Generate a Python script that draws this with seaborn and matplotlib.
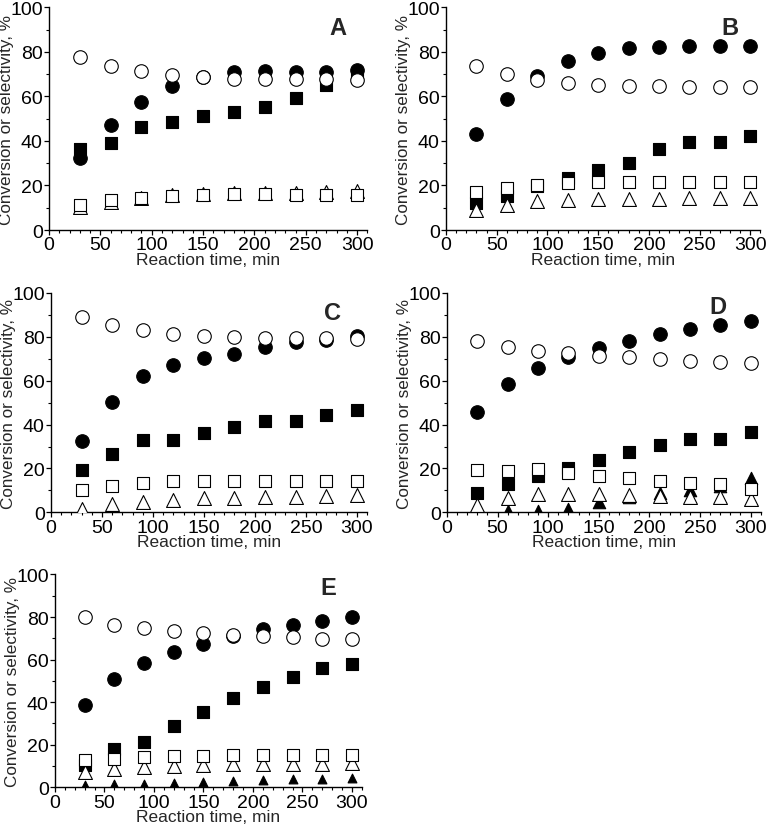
import numpy as np
import pandas as pd
import seaborn as sns
import matplotlib.pyplot as plt
from matplotlib.ticker import MultipleLocator

# reaction times, min
time = [30, 60, 90, 120, 150, 180, 210, 240, 270, 300]

# panel A
a_conv = [32.2, 47.3, 57.6, 64.5, 68.8, 71.0, 71.4, 71.1, 71.0, 71.9]
a_sel = [77.5, 73.8, 71.3, 69.5, 68.7, 67.7, 67.7, 67.7, 68.0, 67.5]
a_sq_f = [36.5, 39.0, 46.3, 48.5, 51.0, 53.1, 55.2, 59.3, 65.1, 68.5]
a_sq_o = [11.2, 13.3, 14.4, 15.4, 15.9, 16.0, 16.0, 15.9, 15.9, 15.9]
a_tri_o = [10.5, 12.5, 14.5, 15.5, 16.0, 16.5, 16.8, 16.8, 17.0, 17.5]

# panel B
b_conv = [43.3, 58.7, 69.3, 75.7, 79.5, 81.6, 82.3, 82.5, 82.5, 82.5]
b_sel = [73.8, 70.0, 67.5, 66.0, 65.1, 64.5, 64.5, 64.4, 64.4, 64.4]
b_sq_f = [12.1, 15.4, 19.6, 23.5, 26.8, 30.2, 36.4, 39.4, 39.4, 42.2]
b_sq_o = [16.9, 18.9, 20.0, 21.1, 21.4, 21.4, 21.4, 21.4, 21.4, 21.4]
b_tri_o = [9.0, 11.2, 13.0, 13.6, 13.9, 14.1, 14.1, 14.2, 14.2, 14.2]

# panel C
c_conv = [32.7, 50.2, 62.3, 67.3, 70.2, 72.2, 75.2, 77.8, 78.6, 80.2]
c_sel = [89.0, 85.6, 83.0, 81.2, 80.2, 79.8, 79.5, 79.5, 79.5, 79.2]
c_sq_f = [19.1, 26.4, 33.1, 33.1, 36.3, 38.9, 41.5, 41.5, 44.4, 46.8]
c_sq_o = [10.3, 11.9, 13.2, 14.1, 14.4, 14.4, 14.4, 14.3, 14.3, 14.1]
c_tri_o = [1.5, 3.6, 4.9, 5.8, 6.4, 6.7, 7.0, 7.0, 7.3, 7.9]

# panel D
d_conv = [45.9, 58.5, 65.7, 70.6, 75.1, 78.1, 81.2, 83.4, 85.4, 87.4]
d_sel = [78.3, 75.4, 73.6, 72.5, 71.1, 70.7, 69.8, 69.1, 68.5, 68.2]
d_sq_f = [8.7, 12.9, 16.6, 20.1, 24.0, 27.5, 30.5, 33.6, 33.6, 36.5]
d_sq_o = [19.1, 19.0, 19.8, 17.9, 16.7, 15.5, 14.4, 13.4, 12.9, 10.6]
d_tri_o = [3.3, 6.7, 8.2, 8.5, 8.5, 8.0, 7.6, 7.1, 6.8, 6.1]
d_tri_f = [0.5, 0.5, 0.6, 1.5, 4.6, 7.1, 8.7, 10.3, 11.9, 15.8]

# panel E
e_conv = [38.6, 51.1, 58.4, 63.4, 67.5, 71.2, 74.2, 76.2, 78.1, 80.0]
e_sel = [79.8, 76.4, 74.8, 73.6, 72.5, 71.7, 71.1, 70.8, 69.8, 69.7]
e_sq_f = [10.6, 18.0, 21.3, 28.6, 35.2, 42.0, 47.2, 51.9, 56.1, 58.0]
e_sq_o = [13.0, 13.3, 14.1, 14.5, 14.7, 15.2, 15.2, 15.2, 15.2, 15.2]
e_tri_o = [7.0, 8.6, 9.7, 10.2, 10.3, 10.8, 10.8, 10.8, 10.9, 11.3]
e_tri_f = [1.1, 1.3, 1.6, 2.2, 2.7, 3.0, 3.3, 3.8, 4.1, 4.4]

panels = [
    ("A", a_conv, a_sel, a_sq_f, a_sq_o, a_tri_o, None),
    ("B", b_conv, b_sel, b_sq_f, b_sq_o, b_tri_o, None),
    ("C", c_conv, c_sel, c_sq_f, c_sq_o, c_tri_o, None),
    ("D", d_conv, d_sel, d_sq_f, d_sq_o, d_tri_o, d_tri_f),
    ("E", e_conv, e_sel, e_sq_f, e_sq_o, e_tri_o, e_tri_f),
]

sns.set_style("ticks")
plt.rcParams['font.family'] = ['Liberation Sans', 'DejaVu Sans']
narrow = ['Liberation Sans Narrow', 'Liberation Sans']

fig = plt.figure(figsize=(7.67, 8.28), dpi=100)
# axes boxes [left, bottom, width, height] in figure fraction
boxes = [
    [0.064, 0.721, 0.415, 0.269],
    [0.5815, 0.721, 0.410, 0.269],
    [0.0665, 0.380, 0.412, 0.265],
    [0.5828, 0.380, 0.409, 0.265],
    [0.0717, 0.048, 0.400, 0.257],
]
letter_pos = [(281, 91), (280, 91), (276, 91), (268, 94), (276, 94)]

for (name, conv, sel, sqf, sqo, trio, trif), box, lp in zip(panels, boxes, letter_pos):
    ax = fig.add_axes(box)
    # filled markers first, open (white) markers on top
    sns.scatterplot(x=time, y=conv, marker='o', s=95, color='black',
                    edgecolor='black', linewidth=0.8, ax=ax, zorder=3)
    sns.scatterplot(x=time, y=sqf, marker='s', s=75, color='black',
                    edgecolor='black', linewidth=0.8, ax=ax, zorder=3)
    if trif is not None:
        tsize = 80 if name == "D" else 40
        sns.scatterplot(x=time, y=trif, marker='^', s=tsize, color='black',
                        edgecolor='black', linewidth=0.8, ax=ax, zorder=3)
    sns.scatterplot(x=time, y=trio, marker='^', s=100, color='white',
                    edgecolor='black', linewidth=0.8, ax=ax, zorder=4)
    sns.scatterplot(x=time, y=sqo, marker='s', s=75, color='white',
                    edgecolor='black', linewidth=0.8, ax=ax, zorder=4)
    sns.scatterplot(x=time, y=sel, marker='o', s=95, color='white',
                    edgecolor='black', linewidth=0.8, ax=ax, zorder=5)

    ax.set_xlim(0, 310)
    ax.set_ylim(0, 100)
    ax.xaxis.set_major_locator(MultipleLocator(50))
    ax.xaxis.set_minor_locator(MultipleLocator(10))
    ax.yaxis.set_major_locator(MultipleLocator(20))
    ax.yaxis.set_minor_locator(MultipleLocator(10))
    ax.tick_params(which='major', direction='out', length=3.5, width=0.9,
                   labelsize=14, pad=1.0, color='black', labelcolor='black')
    ax.tick_params(which='minor', direction='out', length=2, width=0.8, color='black')
    for lbl in ax.get_xticklabels() + ax.get_yticklabels():
        lbl.set_family(narrow)
    for sp in ['left', 'bottom']:
        ax.spines[sp].set_linewidth(1.0)
        ax.spines[sp].set_color('black')
    sns.despine(ax=ax)
    ax.set_xlabel("Reaction time, min", fontsize=12.5, labelpad=-1)
    ax.set_ylabel("Conversion or selectivity, %", fontsize=12.3, labelpad=-3)
    ax.text(lp[0], lp[1], name, fontsize=17, fontweight='bold',
            ha='center', va='center')

fig.savefig("out.png", dpi=100)
